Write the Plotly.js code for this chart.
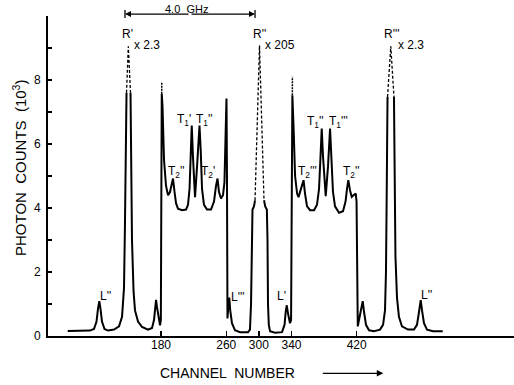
<!DOCTYPE html>
<html>
<head>
<meta charset="utf-8">
<script src="https://cdn.plot.ly/plotly-3.0.1.min.js"></script>
<style>html,body{margin:0;padding:0;background:#fff;}#chart{width:514px;height:385px;}</style>
</head>
<body>
<div id="chart"></div>
<script>
// Spectrum (solid trace), channel number vs photon counts (10^3); null = break where peak goes off scale
const spectrumChannel = [65.6,80.7,92.9,97.8,100.9,102.7,104.3,105.8,107.6,110.7,115.0,122.4,128.5,132.2,134.6,135.8,137.1,137.7,140,
  142.6,143.2,144.4,146.3,148.1,151.8,156.7,164.1,169.0,171.4,172.6,173.9,175.1,176.9,178.8,179.8,180.4,180.9,181.8,183.7,186.1,188.6,
  191.0,192.9,194.7,196.6,198.4,200.8,205.8,210.7,213.1,215.0,216.4,217.7,219.2,221.7,224.2,226.3,227.2,228.7,230.3,232.7,236.4,241.3,
  245.0,247.5,249.3,251.1,253.6,256.0,257.8,259.4,260.3,260.9,261.5,262.5,263.7,264.9,267.0,270.7,276.9,286.7,289.1,290.4,291.3,292.2,
  294.0,295.3,300,306.3,307.8,309.8,310.6,311.2,312.2,313.7,319.8,328.4,331.5,332.9,334.2,335.8,338.2,339.5,340.3,341.1,342.6,344.4,
  346.9,348.6,351.1,353.0,354.8,356.6,359.1,362.8,367.7,371.3,373.8,375.6,377.1,378.7,382.0,384.8,386.0,387.3,388.9,390.9,393.4,398.3,
  403.2,406.3,408.1,409.7,411.8,413.9,416.1,418.8,419.8,420.6,421.3,422.8,425.3,427.4,429.0,431.4,435.1,441.2,448.6,452.3,454.7,455.9,
  456.8,457.8,462,465.7,466.6,467.5,469.4,471.8,475.5,482.9,490.3,493.9,496.4,498.5,500.1,502.5,506.2,513.6,525.5];
const spectrumCounts = [0.16,0.16,0.17,0.22,0.45,0.85,1.09,0.85,0.45,0.22,0.17,0.2,0.3,0.6,1.5,3.5,6.5,7.6,null,
  7.6,6.0,3.0,1.4,0.8,0.45,0.28,0.2,0.25,0.5,0.85,1.13,0.9,0.55,0.33,0.5,3.0,7.57,7.2,5.5,4.7,4.4,
  4.5,4.7,4.92,4.5,4.15,3.98,3.93,3.95,4.1,4.6,5.8,6.58,5.6,4.34,5.3,6.4,6.58,5.8,4.6,4.1,3.95,3.95,
  4.2,4.7,4.92,4.5,4.3,4.4,4.8,6.5,7.42,5.0,0.55,0.9,1.2,0.8,0.4,0.18,0.12,0.12,0.2,1.0,3.0,3.95,
  4.05,4.24,null,4.24,4.05,3.95,3.0,1.0,0.35,0.15,0.1,0.12,0.35,0.75,0.96,0.7,0.4,0.5,3.0,7.52,6.5,5.0,
  4.45,4.34,4.55,4.75,4.87,4.45,4.05,3.93,3.93,4.1,4.6,5.6,6.48,5.6,4.37,5.3,6.0,6.48,5.6,4.5,4.05,3.85,
  3.9,4.2,4.6,4.87,4.55,4.35,4.4,4.45,4.2,2.0,0.3,0.5,0.85,1.09,0.75,0.35,0.18,0.15,0.2,0.35,0.8,2.0,
  4.5,7.47,null,7.47,5.0,2.5,1.2,0.6,0.3,0.2,0.2,0.35,0.75,1.12,0.8,0.4,0.2,0.15,0.15];

// Off-scale Rayleigh peaks (dashed, scaled)
const rayleighChannel = [137.7,139.9,142.6,null,295.3,300.8,306.3,null,457.8,461.8,465.7];
const rayleighCounts  = [7.6,9.05,7.6,null,4.24,9.08,4.24,null,7.47,9.05,7.47];

// Broken tops of the tall edges
const edgeChannel = [180.9,180.9,null,341.1,341.1];
const edgeCounts  = [7.57,7.94,null,7.52,8.1];

// Tick labels
const xTickVals = [180,260,300,340,420];
const xTickText = ['180','260','300','340','420'];
const yTickVals = [0,2,4,6,8];
const yTickText = ['0','2','4','6','8'];

// Peak labels (centred)
const peakLabelText = ["R'","R''","R'''",
  "T<sub>1</sub>'","T<sub>1</sub>''","T<sub>2</sub>''","T<sub>2</sub>'",
  "T<sub>2</sub>'''","T<sub>1</sub>''","T<sub>1</sub>'''","T<sub>2</sub>''",
  "L''","L'''","L'","L''"];
const peakLabelChannel = [139.5,300.2,462.7,
  207.6,233.3,199.3,237.6,
  359.1,368.9,397.1,413.0,
  112.3,274.8,328.0,505.9];
const peakLabelCounts = [9.43,9.43,9.43,
  6.74,6.74,5.13,5.13,
  5.13,6.69,6.69,5.13,
  1.24,1.22,1.24,1.27];

// Scale factors of the off-scale peaks (left-aligned)
const scaleText = ['x 2.3','x 205','x 2.3'];
const scaleChannel = [145.7,306.3,469.1];
const scaleCounts = [9.08,9.08,9.08];

// Free spectral range bracket, R' to R'' = 4.0 GHz
const bracketText = '4.0  GHz';
const bracketFrom = 135.8, bracketTo = 295.3;
const bracketTextChannel = 210.7;

const xRange = [41.4, 612.9];
const yRange = [0, 10];

const FONT = 'Liberation Sans, Arial, sans-serif';
const toPaperX = ch => (ch - xRange[0]) / (xRange[1] - xRange[0]);
const toPaperY = v => (v - yRange[0]) / (yRange[1] - yRange[0]);

const traces = [
  {x: spectrumChannel, y: spectrumCounts, mode: 'lines', connectgaps: false,
   line: {color: '#000', width: 2}, hoverinfo: 'skip', cliponaxis: false},
  {x: rayleighChannel, y: rayleighCounts, mode: 'lines', connectgaps: false,
   line: {color: '#000', width: 1.3, dash: '3px,2px'}, hoverinfo: 'skip', cliponaxis: false},
  {x: edgeChannel, y: edgeCounts, mode: 'lines', connectgaps: false,
   line: {color: '#000', width: 1.5, dash: '2px,1px'}, hoverinfo: 'skip', cliponaxis: false}
];

const annotations = [];
peakLabelText.forEach((t, i) => annotations.push({
  x: toPaperX(peakLabelChannel[i]), y: toPaperY(peakLabelCounts[i]), xref: 'paper', yref: 'paper',
  text: t, showarrow: false, xanchor: 'center', yanchor: 'middle', borderpad: 0,
  font: {family: FONT, size: 12, color: '#000'}}));
scaleText.forEach((t, i) => annotations.push({
  x: toPaperX(scaleChannel[i]), y: toPaperY(scaleCounts[i]), xref: 'paper', yref: 'paper',
  text: t, showarrow: false, xanchor: 'left', yanchor: 'middle', borderpad: 0,
  font: {family: FONT, size: 12, color: '#000'}}));
// bracket arrows and label
const bracketY = toPaperY(10.06);
annotations.push({x: toPaperX(bracketFrom), y: bracketY, xref: 'paper', yref: 'paper', ax: 65, ay: 0,
  text: '', showarrow: true, arrowhead: 2, arrowsize: 1, arrowwidth: 1.2, arrowcolor: '#000'});
annotations.push({x: toPaperX(bracketTo), y: bracketY, xref: 'paper', yref: 'paper', ax: -65, ay: 0,
  text: '', showarrow: true, arrowhead: 2, arrowsize: 1, arrowwidth: 1.2, arrowcolor: '#000'});
annotations.push({x: toPaperX(bracketTextChannel), y: toPaperY(10.22), xref: 'paper', yref: 'paper',
  text: bracketText, showarrow: false, xanchor: 'center', yanchor: 'middle',
  font: {family: FONT, size: 11, color: '#000'}});
// axis titles
annotations.push({x: -0.0622, y: 0.525, xref: 'paper', yref: 'paper', textangle: -90,
  text: 'PHOTON  COUNTS  (10<sup>3</sup>)', showarrow: false, xanchor: 'center', yanchor: 'middle',
  font: {family: FONT, size: 15, color: '#000'}});
annotations.push({x: 0.236, y: -0.1166, xref: 'paper', yref: 'paper',
  text: 'CHANNEL  NUMBER', showarrow: false, xanchor: 'left', yanchor: 'middle',
  font: {family: FONT, size: 14, color: '#000'}});
annotations.push({x: 0.7195, y: -0.1166, xref: 'paper', yref: 'paper', ax: -62, ay: 0,
  text: '', showarrow: true, arrowhead: 2, arrowsize: 1, arrowwidth: 1.3, arrowcolor: '#000'});

const shapes = [bracketFrom, bracketTo].map(ch => ({
  type: 'line', xref: 'paper', yref: 'paper', x0: toPaperX(ch), x1: toPaperX(ch),
  y0: toPaperY(9.94), y1: toPaperY(10.19), line: {color: '#000', width: 1.3}
}));

const layout = {
  width: 514, height: 385,
  margin: {l: 48, r: 0, t: 16, b: 49, pad: 0},
  paper_bgcolor: '#fff', plot_bgcolor: '#fff',
  showlegend: false,
  font: {family: FONT, color: '#000'},
  xaxis: {range: xRange, showgrid: false, zeroline: false, showline: true, linecolor: '#000', linewidth: 2,
    ticks: 'inside', ticklen: 5, tickwidth: 1.3, tickcolor: '#000',
    tickvals: xTickVals, ticktext: xTickText, tickfont: {family: FONT, size: 12, color: '#000'},
    ticklabelstandoff: -3, fixedrange: true},
  yaxis: {range: yRange, showgrid: false, zeroline: false, showline: true, linecolor: '#000', linewidth: 2,
    ticks: 'inside', ticklen: 4, tickwidth: 1.3, tickcolor: '#000',
    tickvals: yTickVals, ticktext: yTickText, tickfont: {family: FONT, size: 12, color: '#000'},
    ticklabelstandoff: 3,
    minor: {dtick: 1, ticks: 'inside', ticklen: 4, tickwidth: 1.3, tickcolor: '#000', showgrid: false},
    fixedrange: true},
  annotations: annotations,
  shapes: shapes
};

Plotly.newPlot('chart', traces, layout, {staticPlot: true, displayModeBar: false});
</script>
</body>
</html>
